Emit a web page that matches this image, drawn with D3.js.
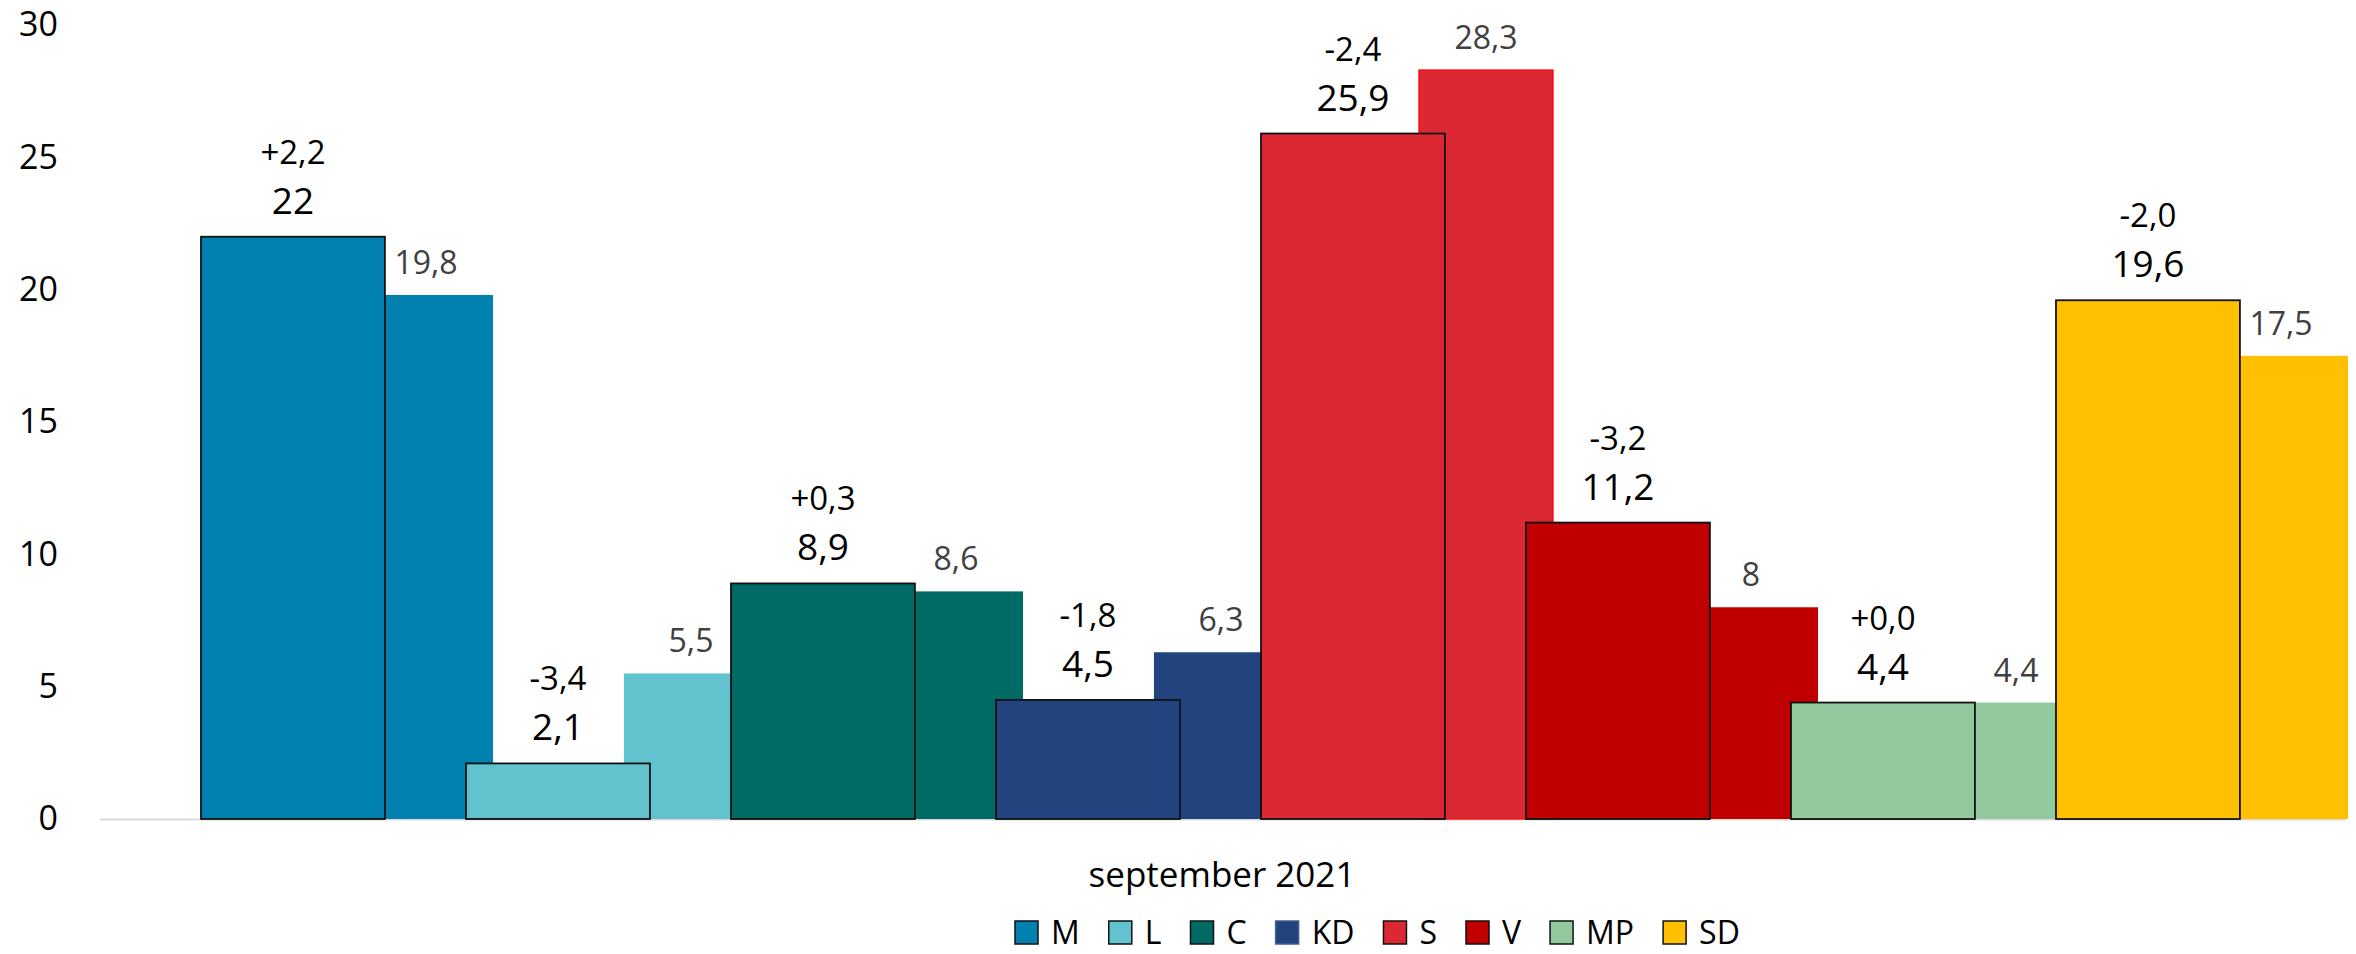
<!DOCTYPE html>
<html>
<head>
<meta charset="utf-8">
<script src="https://cdn.jsdelivr.net/npm/d3@7"></script>
<style>
  body { margin: 0; background: #fff; }
  text { font-family: "Open Sans", "Noto Sans", sans-serif; }
</style>
</head>
<body>
<svg id="chart" width="2356" height="954"></svg>
<script>
// parties and their values (current poll vs previous)
const parties = ["M", "L", "C", "KD", "S", "V", "MP", "SD"];
const current = [22, 2.1, 8.9, 4.5, 25.9, 11.2, 4.4, 19.6];
const previous = [19.8, 5.5, 8.6, 6.3, 28.3, 8, 4.4, 17.5];
const changes = ["+2,2", "-3,4", "+0,3", "-1,8", "-2,4", "-3,2", "+0,0", "-2,0"];
const colors = ["#0081af", "#62c3cf", "#006a64", "#23437f", "#dc2832", "#c00000", "#93c99e", "#ffc000"];
const yTicks = [0, 5, 10, 15, 20, 25, 30];
const category = ["september 2021"];

const width = 2356, height = 954;
const svg = d3.select("#chart");

const data = parties.map((p, i) => ({
    party: p,
    cur: current[i],
    prev: previous[i],
    change: changes[i],
    color: colors[i]
}));

const fmt = v => String(v).replace(".", ",");

// scales
const y = d3.scaleLinear().domain([0, 30]).range([819, 25]);
const x = d3.scaleBand().domain(parties).range([201, 2321]).padding(0);
const bw = x.bandwidth();
const wideW = bw * 0.694;       // current bar
const prevOff = bw * 0.596;     // previous bar sits behind, shifted right
const prevW = bw * 0.506;

// x axis (single category)
const xCat = d3.scaleBand().domain(category).range([99, 2345]);
const xAxis = svg.append("g")
    .attr("transform", `translate(0, ${y(0)})`)
    .call(d3.axisBottom(xCat).tickSize(0).tickSizeOuter(0));
xAxis.select(".domain").attr("stroke", "#d9d9d9").attr("stroke-width", 2);
xAxis.selectAll("text")
    .attr("y", 68).attr("dy", 0)
    .attr("font-size", 35).attr("fill", "#000")
    .style("font-family", "'Open Sans', sans-serif");

// y axis labels only
const yAxis = svg.append("g")
    .attr("transform", "translate(58, 0)")
    .call(d3.axisLeft(y).tickValues(yTicks).tickSize(0).tickPadding(0));
yAxis.select(".domain").remove();
yAxis.selectAll("text")
    .attr("font-size", 34).attr("fill", "#000")
    .style("font-family", "'Open Sans', sans-serif");

// previous bars (behind)
svg.append("g").selectAll("rect")
    .data(data)
    .enter()
    .append("rect")
    .attr("x", d => x(d.party) + prevOff)
    .attr("y", d => y(d.prev))
    .attr("width", prevW)
    .attr("height", d => y(0) - y(d.prev))
    .attr("fill", d => d.color)
    .attr("stroke", d => d.party === "S" ? "#ff0000" : "none")
    .attr("stroke-width", 1.2);

// current bars (front)
svg.append("g").selectAll("rect")
    .data(data)
    .enter()
    .append("rect")
    .attr("x", d => x(d.party))
    .attr("y", d => y(d.cur))
    .attr("width", wideW)
    .attr("height", d => y(0) - y(d.cur))
    .attr("fill", d => d.color)
    .attr("stroke", "#111")
    .attr("stroke-width", 1.8);

// labels for previous bars
svg.append("g").selectAll("text")
    .data(data)
    .enter()
    .append("text")
    .attr("x", d => x(d.party) + prevOff + prevW / 2)
    .attr("y", d => y(d.prev) - 21)
    .attr("text-anchor", "middle")
    .attr("font-size", 32)
    .attr("fill", "#404040")
    .text(d => fmt(d.prev));

// labels for current bars
svg.append("g").selectAll("text")
    .data(data)
    .enter()
    .append("text")
    .attr("x", d => x(d.party) + wideW / 2)
    .attr("y", d => y(d.cur) - 23)
    .attr("text-anchor", "middle")
    .attr("font-size", 37)
    .attr("fill", "#000")
    .text(d => fmt(d.cur));

// change labels
svg.append("g").selectAll("text")
    .data(data)
    .enter()
    .append("text")
    .attr("x", d => x(d.party) + wideW / 2)
    .attr("y", d => y(d.cur) - 73)
    .attr("text-anchor", "middle")
    .attr("font-size", 33)
    .attr("fill", "#000")
    .text(d => d.change);

// legend
const legend = svg.append("g").attr("transform", "translate(1015, 921)");
let lx = 0;
data.forEach(d => {
    const item = legend.append("g").attr("transform", `translate(${lx}, 0)`);
    item.append("rect")
        .attr("width", 23).attr("height", 23)
        .attr("fill", d.color)
        .attr("stroke", d.party === "KD" ? "#3d5f95" : "#111")
        .attr("stroke-width", 1.5);
    const t = item.append("text")
        .attr("x", 36).attr("y", 23)
        .attr("font-size", 32)
        .attr("fill", "#000")
        .text(d.party);
    lx += 36 + t.node().getComputedTextLength() + 29;
});
</script>
</body>
</html>
